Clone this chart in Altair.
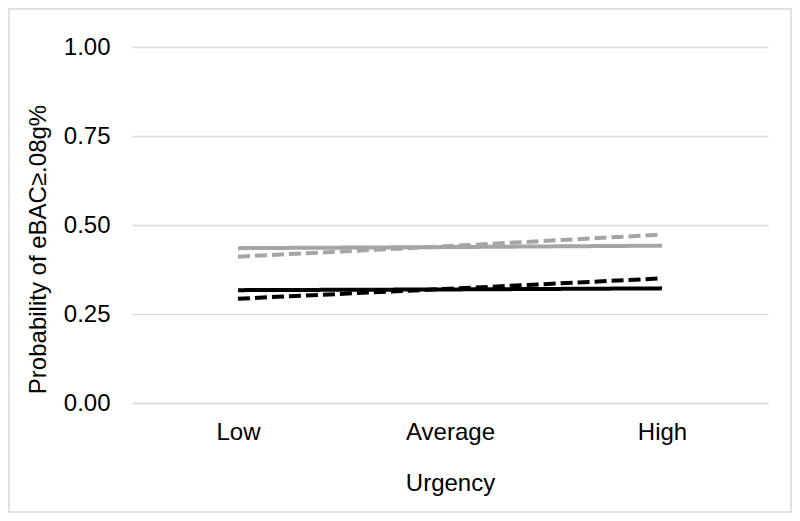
import altair as alt
import pandas as pd

categories = ["Low", "Average", "High"]
series_names = ["Gray solid", "Gray dashed", "Black solid", "Black dashed"]
gray_solid = [0.435, 0.438, 0.442]
gray_dashed = [0.411, 0.441, 0.473]
black_solid = [0.317, 0.319, 0.322]
black_dashed = [0.293, 0.321, 0.350]

rows = []
for name, vals in zip(series_names, [gray_solid, gray_dashed, black_solid, black_dashed]):
    for c, v in zip(categories, vals):
        rows.append({"Urgency": c, "Series": name, "Prob": v})
df = pd.DataFrame(rows)

W, H = 636, 356
FONT = "Liberation Sans"
FS = 24

lines = alt.Chart(df).mark_line(strokeWidth=4, strokeCap="butt").encode(
    x=alt.X("Urgency:N", sort=categories, scale=alt.Scale(type="point", padding=0.5),
            axis=alt.Axis(title="Urgency", labelAngle=0, ticks=False, domain=False,
                          labelFontSize=FS, labelFont=FONT, labelColor="#000", labelPadding=17,
                          titleFontSize=FS, titleFont=FONT, titleFontWeight="normal", titleColor="#000",
                          titleY=80, titleBaseline="middle")),
    y=alt.Y("Prob:Q", scale=alt.Scale(domain=[0, 1]),
            axis=alt.Axis(title="Probability of eBAC\u2265.08g%", values=[0, 0.25, 0.5, 0.75, 1.0],
                          format=".2f", ticks=False, domain=False, gridColor="#d9d9d9", gridWidth=1.5,
                          labelFontSize=FS, labelFont=FONT, labelColor="#000", labelPadding=22,
                          titleFontSize=FS, titleFont=FONT, titleFontWeight="normal", titleColor="#000",
                          titleAngle=-90, titleX=-94, titleY=202, titleAlign="center",
                          titleBaseline="middle")),
    color=alt.Color("Series:N", scale=alt.Scale(domain=series_names,
                                                  range=["#a5a5a5", "#a5a5a5", "#000000", "#000000"]),
                    legend=None),
    strokeDash=alt.StrokeDash("Series:N", scale=alt.Scale(domain=series_names,
                                                            range=[[1, 0], [12, 5], [1, 0], [12, 5]]),
                              legend=None),
)

border = alt.Chart(pd.DataFrame({"a": [0]})).mark_rect(
    fill=None, stroke="#d9d9d9", strokeWidth=1.5, clip=False
).encode(x=alt.value(-123), x2=alt.value(659), y=alt.value(-38), y2=alt.value(465))

chart = alt.layer(border, lines).properties(
    width=W, height=H,
    padding={"left": 124, "top": 39, "right": 24, "bottom": 110},
    autosize=alt.AutoSizeParams(type="none"),
    background="white",
).configure_view(stroke=None)

chart.save("out.html", embed_options={"renderer": "svg", "actions": False})
